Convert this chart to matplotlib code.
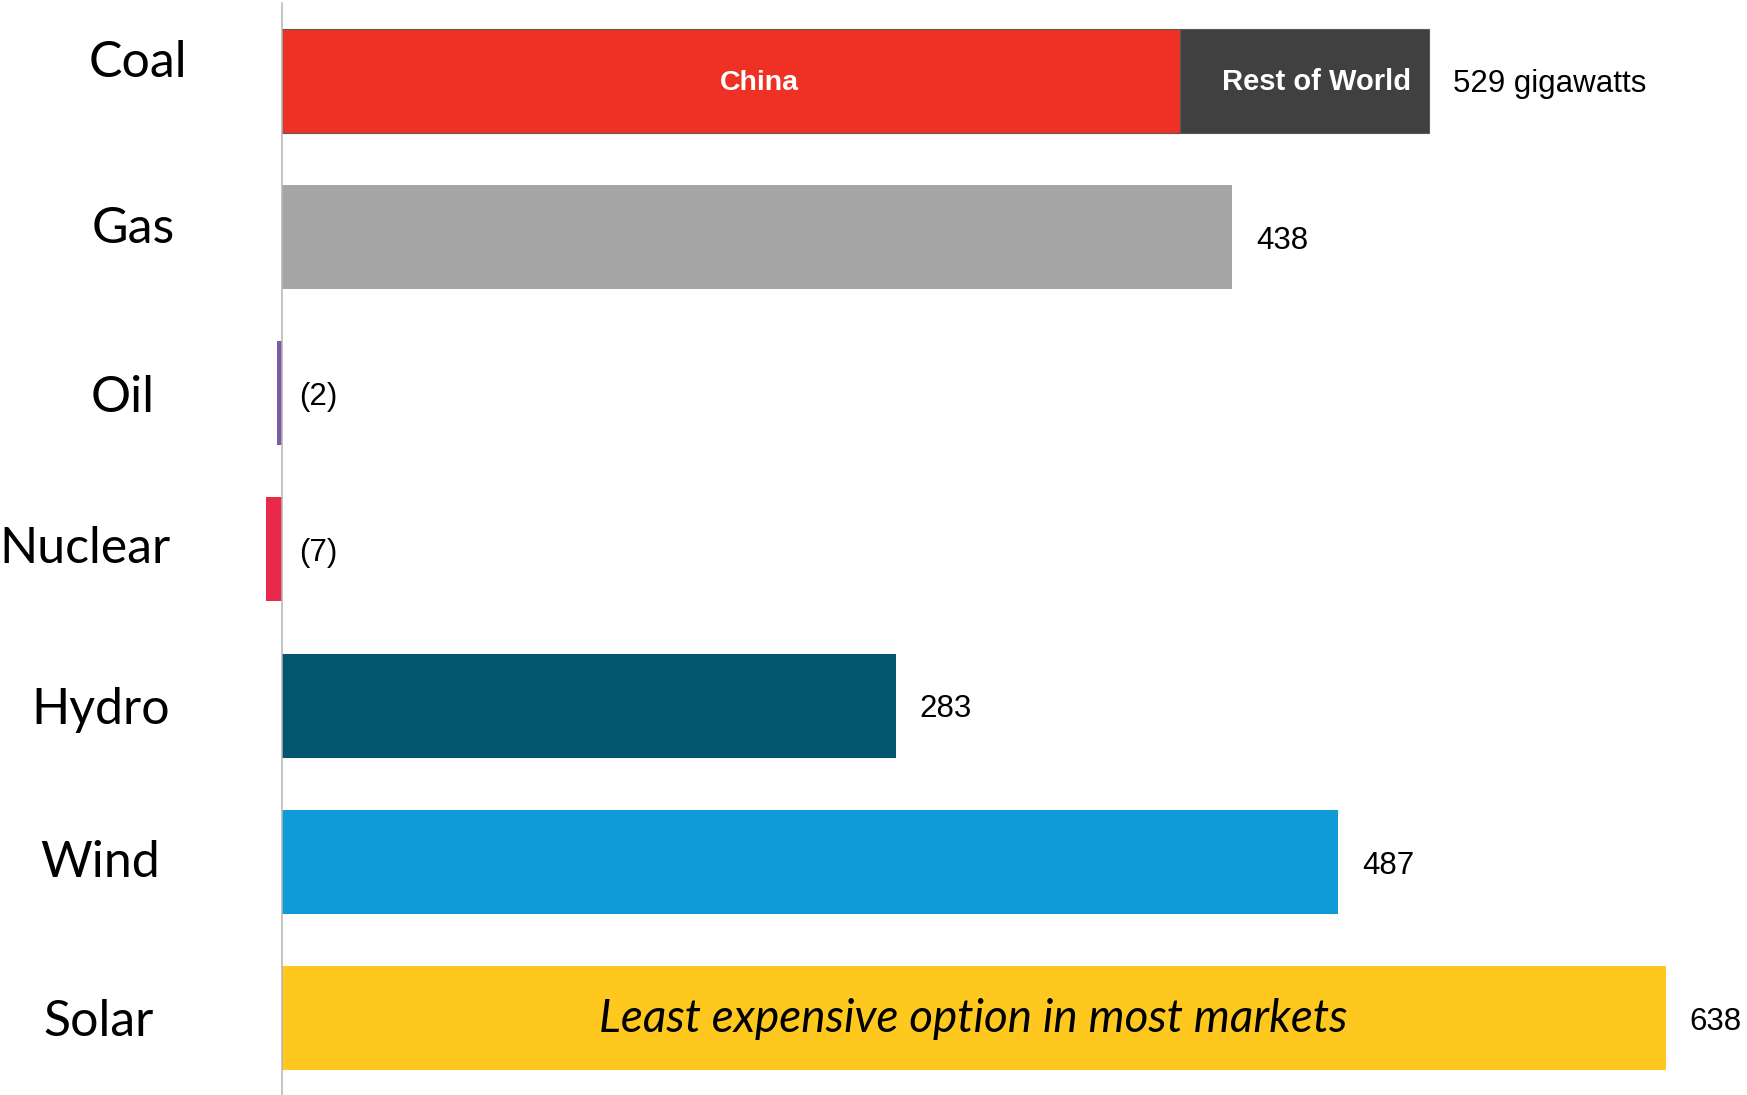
import matplotlib.pyplot as plt

# capacity change by source, gigawatts
sources = ['Coal', 'Gas', 'Oil', 'Nuclear', 'Hydro', 'Wind', 'Solar']
values = [529, 438, -2, -7, 283, 487, 638]
coal_china = 414
coal_rest = 115
value_labels = ['529 gigawatts', '438', '(2)', '(7)', '283', '487', '638']
colors = ['#EE3124', '#A6A6A6', '#7B5BA6', '#E8294A', '#02566F', '#0E9CD9', '#FEC81F']
solar_note = 'Least expensive option in most markets'

# hand placement of the category names (pixels across, baseline offset in rows)
name_px = [137.6, 133, 123, 85, 101, 100, 98.6]
name_dy = [-0.021, 0.039, 0.121, 0.088, 0.118, 0.098, 0.116]

px_per_unit = 2.17
zero_px = 281.5

fig = plt.figure(figsize=(17.47, 10.95), dpi=100)
ax = fig.add_axes([0, 0, 1, 1])
ax.set_xlim(-zero_px / px_per_unit, (1747 - zero_px) / px_per_unit)
ax.set_ylim(6.493, -0.517)
ax.axis('off')

ys = list(range(len(sources)))
h = 0.666

# coal is split into China and rest of world
ax.barh(0, coal_china, height=h, color='#EE3124', edgecolor='#5a5a5a', linewidth=0.8)
ax.barh(0, coal_rest, left=coal_china, height=h, color='#404040', edgecolor='#5a5a5a', linewidth=0.8)
for y, v, c in zip(ys[1:], values[1:], colors[1:]):
    ax.barh(y, v, height=h, color=c, linewidth=0)

ax.plot([0, 0], [-0.498, 6.5], color='#b4b4b4', lw=1.1, zorder=3)

for y, v, lab in zip(ys, values, value_labels):
    x = v + 11 if v > 0 else 8
    ax.text(x, y + 0.075, lab, fontsize=22.5, family='Liberation Sans', va='baseline', ha='left')

ax.text(220, 0.06, 'China', fontsize=20.5, family='Liberation Sans', weight='bold',
        color='white', ha='center', va='baseline')
ax.text(coal_china + coal_rest - 8.5, 0.06, 'Rest of World', fontsize=21, family='Liberation Sans',
        weight='bold', color='white', ha='right', va='baseline')

ax.text(values[6] / 2, 6 + 0.088, solar_note, fontsize=33, family='Lato', style='italic',
        ha='center', va='baseline')

for y, name, px, dy in zip(ys, sources, name_px, name_dy):
    ax.text((px - zero_px) / px_per_unit, y + dy, name, fontsize=36, family='Lato',
            ha='center', va='baseline')

fig.savefig('out.png', dpi=100)
